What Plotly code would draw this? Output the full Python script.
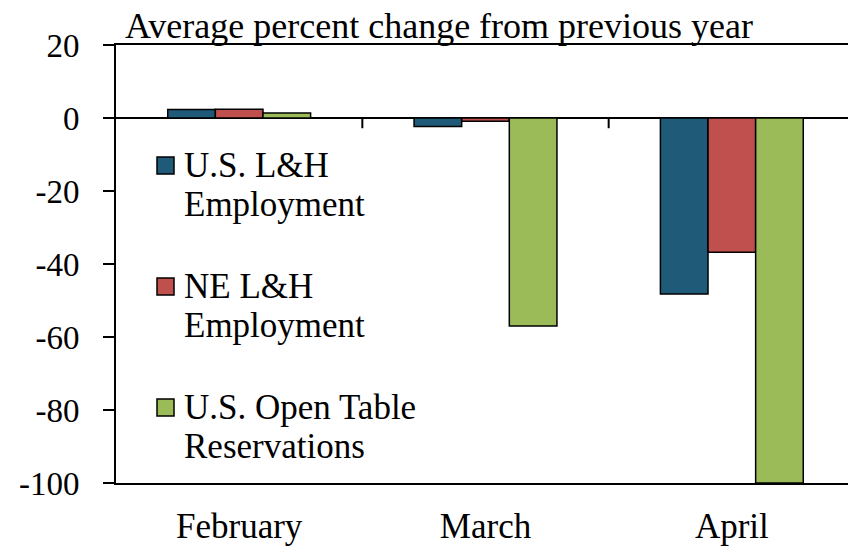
import plotly.graph_objects as go

months = ["February", "March", "April"]
us_lh = [2.3, -2.3, -48.2]
ne_lh = [2.4, -0.9, -36.8]
open_table = [1.4, -57.0, -100.0]
series_lines = [["U.S. L&H", "Employment"], ["NE L&H", "Employment"], ["U.S. Open Table", "Reservations"]]
colors = ["#1F5B78", "#C0504D", "#9BBB59"]
y_ticks = [20, 0, -20, -40, -60, -80, -100]
y_tick_text = ["20", "0", "-20", "-40", "-60", "-80", "-100"]

FONT = "Liberation Serif"
OFF = 8  # page body margin
L, R, T, B = 116 - OFF, 1, 45 - OFF, 63
W, H = 856 - OFF, 546 - OFF
PW, PH = W - L - R, H - T - B

def px_x(px):
    return (px - OFF - L) / PW

def px_y(py):
    return (H - B - (py - OFF)) / PH

fig = go.Figure()
for vals, lines, col in zip([us_lh, ne_lh, open_table], series_lines, colors):
    fig.add_trace(go.Bar(
        x=months, y=vals, name=" ".join(lines),
        marker=dict(color=col, line=dict(color="black", width=1.5)),
    ))

# category tick marks on the zero line
for xc in [0.5, 1.5]:
    fig.add_shape(type="line", xref="x", yref="y", x0=xc, x1=xc, y0=0, y1=-2.8,
                  line=dict(color="black", width=2))

annotations = [dict(text="Average percent change from previous year", xref="paper", yref="paper",
                    x=px_x(123), y=1.0, xanchor="left", yanchor="bottom", showarrow=False,
                    font=dict(size=36, family=FONT), yshift=-3)]

# manual legend (two-line entries with tight line spacing)
entry_tops = [157, 278, 399]
for top, lines, col in zip(entry_tops, series_lines, colors):
    fig.add_shape(type="rect", xref="paper", yref="paper",
                  x0=px_x(157), x1=px_x(174), y0=px_y(top), y1=px_y(top + 17),
                  fillcolor=col, line=dict(color="black", width=1.5))
    for k, txt in enumerate(lines):
        annotations.append(dict(text=txt, xref="paper", yref="paper",
                                x=px_x(182), y=px_y(top + 8 + 39 * k), xanchor="left",
                                yanchor="middle", showarrow=False,
                                font=dict(size=35, family=FONT)))

fig.update_layout(
    width=W, height=H,
    margin=dict(l=L, r=R, t=T, b=B),
    plot_bgcolor="white", paper_bgcolor="white",
    font=dict(family=FONT, size=35, color="black"),
    barmode="group", bargap=0.42, bargroupgap=0,
    showlegend=False,
    annotations=annotations,
)
fig.update_xaxes(showgrid=False, showline=True, linecolor="black", linewidth=2, mirror=True,
                 ticks="", tickfont=dict(size=35), ticklabelstandoff=11, automargin=False)
fig.update_yaxes(range=[-100, 20], tickvals=y_ticks, ticktext=y_tick_text, showgrid=False,
                 showline=True, linecolor="black", linewidth=2, mirror=True, ticks="outside",
                 ticklen=11, tickwidth=2, tickcolor="black", zeroline=True,
                 zerolinecolor="black", zerolinewidth=2, tickfont=dict(size=33),
                 ticklabelstandoff=17, automargin=False)

fig.write_html("out.html")
